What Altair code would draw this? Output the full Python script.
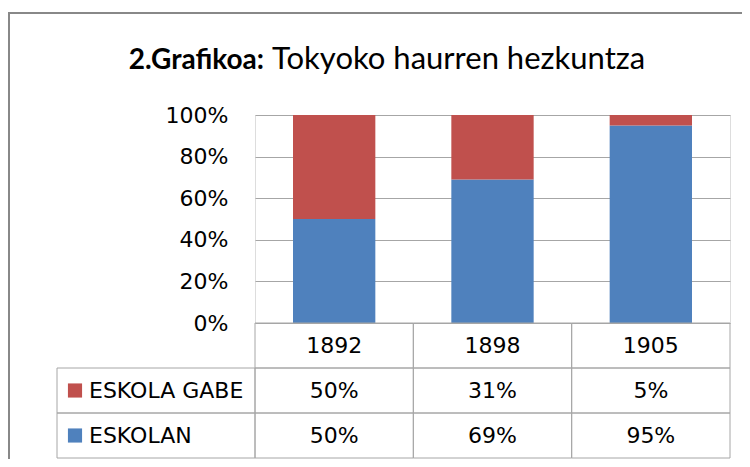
import altair as alt
import pandas as pd

# ---- data ----
years = ["1892", "1898", "1905"]
eskola_gabe = [0.50, 0.31, 0.05]
eskolan = [0.50, 0.69, 0.95]
series = ["ESKOLA GABE", "ESKOLAN"]
series_colors = ["#C0504D", "#4F81BD"]
title_bold = "2.Grafikoa:"
title_rest = "Tokyoko haurren hezkuntza"
y_ticks = [0, 0.2, 0.4, 0.6, 0.8, 1.0]

# ---- layout / style ----
FONT = "DejaVu Sans"
TFONT = "Lato"
W, H = 475, 208
ROW = 45
GRID = "#a6a6a6"
FS = 22

rows = []
for i, yr in enumerate(years):
    rows.append(dict(year=yr, idx=i, series="ESKOLAN", value=eskolan[i], order=0, row=2))
    rows.append(dict(year=yr, idx=i, series="ESKOLA GABE", value=eskola_gabe[i], order=1, row=1))
df = pd.DataFrame(rows)
year_df = pd.DataFrame({"year": years, "idx": list(range(len(years)))})
lab_df = pd.DataFrame({"series": series, "row": [1, 2]})
cells = pd.DataFrame(
    [dict(x0=i, x1=i + 1, top=H + ROW * r, bot=H + ROW * (r + 1))
     for i in range(len(years)) for r in range(3)]
)
lab_cells = pd.DataFrame([dict(top=H + ROW * r, bot=H + ROW * (r + 1)) for r in (1, 2)])

xscale = alt.Scale(domain=[0, len(years)], nice=False, zero=False)
yscale = alt.Scale(domain=[0, 1], nice=False)
cscale = alt.Scale(domain=series, range=series_colors)

border = alt.Chart(year_df.head(1)).mark_rect(
    fill="transparent", stroke="#888888", strokeWidth=2
).encode(x=alt.value(-246), x2=alt.value(W + 200), y=alt.value(-102), y2=alt.value(H + 300))

bars = alt.Chart(df).transform_stack(
    stack="value", groupby=["idx"], as_=["v0", "v1"], sort=[alt.SortField("order")]
).transform_calculate(
    x0="datum.idx + 0.24", x1="datum.idx + 0.76"
).mark_rect().encode(
    x=alt.X("x0:Q", scale=xscale, axis=None),
    x2="x1:Q",
    y=alt.Y("v0:Q", scale=yscale, title=None,
            axis=alt.Axis(values=y_ticks, format=".0%", grid=True, gridColor=GRID,
                          domain=False, ticks=False, labelFontSize=FS, labelFont=FONT,
                          labelColor="#000000", labelPadding=27)),
    y2="v1:Q",
    color=alt.Color("series:N", scale=cscale, legend=None),
)

table = alt.Chart(cells).mark_rect(fill="transparent", stroke=GRID, strokeWidth=1).encode(
    x=alt.X("x0:Q", scale=xscale, axis=None), x2="x1:Q",
    y=alt.Y("top:Q", scale=None), y2="bot:Q",
)
label_table = alt.Chart(lab_cells).mark_rect(fill="transparent", stroke=GRID, strokeWidth=1).encode(
    x=alt.value(-198), x2=alt.value(0),
    y=alt.Y("top:Q", scale=None), y2="bot:Q",
)

year_text = alt.Chart(year_df).transform_calculate(xc="datum.idx + 0.5").mark_text(
    font=FONT, fontSize=FS, color="#000000", baseline="middle"
).encode(x=alt.X("xc:Q", scale=xscale, axis=None), y=alt.value(H + ROW / 2), text="year:N")

val_text = alt.Chart(df).transform_calculate(
    xc="datum.idx + 0.5", yc=f"{H} + {ROW} * datum.row + {ROW / 2}"
).mark_text(font=FONT, fontSize=FS, color="#000000", baseline="middle").encode(
    x=alt.X("xc:Q", scale=xscale, axis=None), y=alt.Y("yc:Q", scale=None),
    text=alt.Text("value:Q", format=".0%"),
)

lab_text = alt.Chart(lab_df).transform_calculate(
    yc=f"{H} + {ROW} * datum.row + {ROW / 2}"
).mark_text(font=FONT, fontSize=FS, color="#000000", baseline="middle", align="left").encode(
    x=alt.value(-166), y=alt.Y("yc:Q", scale=None), text="series:N",
)
lab_sq = alt.Chart(lab_df).transform_calculate(
    yc=f"{H} + {ROW} * datum.row + {ROW / 2}"
).mark_square(size=200, opacity=1).encode(
    x=alt.value(-180), y=alt.Y("yc:Q", scale=None),
    color=alt.Color("series:N", scale=cscale, legend=None),
)

t1 = alt.Chart(year_df.head(1)).mark_text(
    text=title_bold, font=TFONT, fontSize=28, fontWeight="bold", align="right",
    baseline="alphabetic", color="#000000"
).encode(x=alt.value(9), y=alt.value(-46))
t2 = alt.Chart(year_df.head(1)).mark_text(
    text=title_rest, font=TFONT, fontSize=31, align="left",
    baseline="alphabetic", color="#000000"
).encode(x=alt.value(17), y=alt.value(-46))

chart = alt.layer(
    border, bars, table, label_table, year_text, val_text, lab_text, lab_sq, t1, t2
).properties(
    width=W, height=H,
    autosize=alt.AutoSizeParams(type="none"),
    padding={"left": 247, "top": 107, "right": 12, "bottom": 136},
).configure_view(stroke=GRID, strokeWidth=1).configure(background="white")

chart.save("out.html", embed_options={"renderer": "svg", "actions": False})
